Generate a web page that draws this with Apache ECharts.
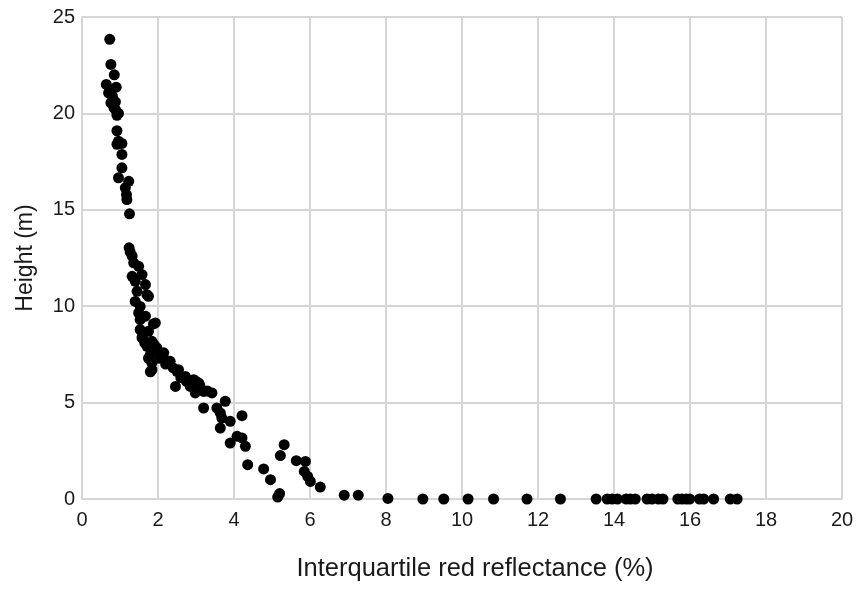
<!DOCTYPE html>
<html>
<head>
<meta charset="utf-8">
<script src="https://cdn.jsdelivr.net/npm/echarts@6/dist/echarts.min.js"></script>
<style>html,body{margin:0;padding:0;background:#fff;}#c{width:868px;height:589px;}</style>
</head>
<body>
<div id="c"></div>
<script>
// Interquartile red reflectance (%)
var reflectance = [
  0.73,0.76,0.85,0.64,0.90,0.70,0.80,0.76,0.88,0.84,0.88,0.96,0.92,
  0.92,0.96,1.05,0.92,1.05,1.05,0.96,1.23,1.14,1.17,1.18,1.25,
  1.24,1.27,1.32,1.36,1.49,1.32,1.58,1.40,1.67,1.45,1.71,1.75,1.40,1.53,1.49,1.67,1.53,1.88,1.93,
  1.53,1.75,1.58,1.59,1.84,1.71,1.97,1.80,2.10,1.84,2.28,1.84,1.80,2.15,2.32,2.50,2.54,2.46,
  2.72,2.94,3.07,2.85,2.98,3.20,3.42,3.20,3.77,3.55,3.64,3.68,3.90,4.21,3.64,4.08,4.21,3.90,4.30,
  4.36,4.78,4.96,5.20,5.15,5.22,5.32,5.64,5.88,5.85,5.94,6.01,6.27,6.90,7.27,8.05,
  1.95,2.05,2.20,2.40,2.60,2.75,3.00,3.10,3.30,1.75,1.90,1.65,
  8.97,9.52,10.16,10.83,11.71,12.59,13.53,13.82,13.95,14.09,14.32,14.43,14.56,14.87,15.00,15.17,15.29,
  15.68,15.79,15.90,15.99,16.25,16.36,16.62,17.06,17.24
];
// Height (m)
var height = [
  23.84,22.54,22.00,21.50,21.36,21.07,20.90,20.55,20.60,20.30,20.20,20.00,19.90,
  19.10,18.56,18.44,18.40,17.87,17.18,16.66,16.48,16.14,15.79,15.53,14.79,
  13.03,12.80,12.60,12.25,12.07,11.55,11.64,11.29,11.12,10.77,10.60,10.51,10.25,9.99,9.65,9.48,9.30,9.08,9.13,
  8.79,8.70,8.36,8.44,8.18,7.92,7.84,7.49,7.49,7.06,7.14,6.71,6.60,7.58,7.14,6.62,6.71,5.84,
  6.36,6.19,6.02,5.84,5.50,5.58,5.50,4.72,5.07,4.72,4.46,4.20,4.03,4.32,3.68,3.25,3.17,2.90,2.73,
  1.78,1.56,1.00,0.28,0.10,2.25,2.82,1.99,1.95,1.43,1.17,0.91,0.62,0.20,0.20,0.03,
  7.70,7.30,7.00,6.80,6.30,6.10,6.10,5.90,5.60,7.30,8.00,8.10,
  0,0,0,0,0,0,0,0,0,0,0,0,0,0,0,0,0,
  0,0,0,0,0,0,0,0,0
];
var xTicks = [0,2,4,6,8,10,12,14,16,18,20];
var yTicks = [0,5,10,15,20,25];

var points = reflectance.map(function(x, i){ return [x, height[i]]; });

var chart = echarts.init(document.getElementById('c'));
var gridColor = '#d6d6d6';
chart.setOption({
  animation: false,
  backgroundColor: '#fff',
  grid: { left: 82, right: 26, top: 17, bottom: 90, containLabel: false },
  xAxis: {
    type: 'value', min: xTicks[0], max: xTicks[xTicks.length-1], interval: 2,
    name: 'Interquartile red reflectance (%)', nameLocation: 'middle', nameGap: 57,
    nameTextStyle: { fontFamily: 'Liberation Sans, Arial', fontSize: 25.5, color: '#1a1a1a', padding: [0,0,0,26] },
    axisLine: { show: true, lineStyle: { color: gridColor, width: 2 } },
    axisTick: { show: false },
    axisLabel: { fontFamily: 'Liberation Sans, Arial', fontSize: 20, color: '#1a1a1a', margin: 11 },
    splitLine: { show: true, lineStyle: { color: gridColor, width: 2 } }
  },
  yAxis: {
    type: 'value', min: yTicks[0], max: yTicks[yTicks.length-1], interval: 5,
    name: 'Height (m)', nameLocation: 'middle', nameGap: 45,
    nameTextStyle: { fontFamily: 'Liberation Sans, Arial', fontSize: 23, color: '#1a1a1a' },
    axisLine: { show: true, lineStyle: { color: gridColor, width: 2 } },
    axisTick: { show: false },
    axisLabel: { fontFamily: 'Liberation Sans, Arial', fontSize: 20, color: '#1a1a1a', margin: 7 },
    splitLine: { show: true, lineStyle: { color: gridColor, width: 2 } }
  },
  series: [{
    type: 'scatter',
    data: points,
    symbol: 'circle',
    symbolSize: 11,
    itemStyle: { color: '#000', opacity: 1 }
  }]
});
</script>
</body>
</html>
